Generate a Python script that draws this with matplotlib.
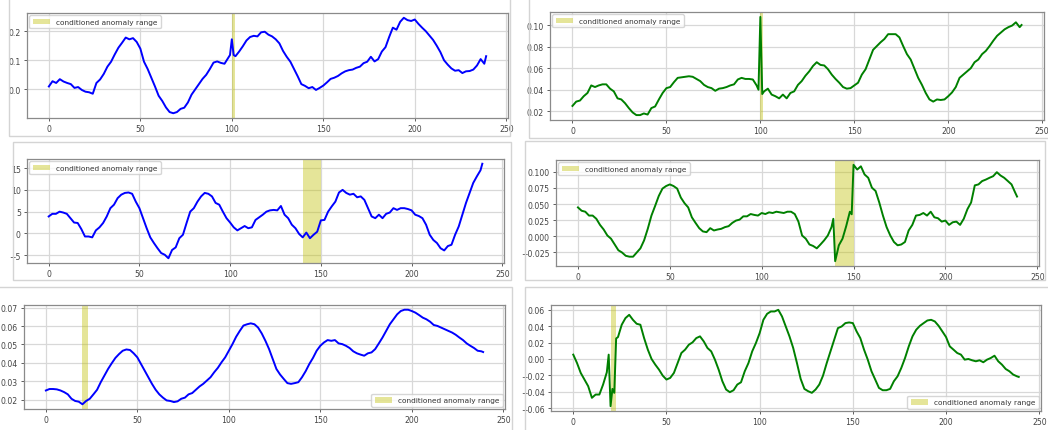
import numpy as np
import matplotlib
matplotlib.use("Agg")
import matplotlib.pyplot as plt
from matplotlib.patches import Rectangle

W, H = 1048, 431

# common x grid (every 2nd step + last index), extra points add sharp features
x_grid = list(range(0, 240, 2)) + [239]

# panel 1 (top left)
y1 = [0.010, 0.028, 0.022, 0.035, 0.027, 0.022, 0.018, 0.005, 0.008, -0.002,
      -0.008, -0.010, -0.015, 0.022, 0.034, 0.053, 0.078, 0.095, 0.120, 0.143,
      0.160, 0.178, 0.172, 0.176, 0.163, 0.140, 0.095, 0.070, 0.040, 0.010,
      -0.022, -0.040, -0.062, -0.078, -0.082, -0.078, -0.067, -0.063, -0.045, -0.018,
      0.000, 0.018, 0.036, 0.050, 0.070, 0.092, 0.096, 0.091, 0.088, 0.108,
      0.172, 0.114, 0.130, 0.148, 0.168, 0.180, 0.184, 0.182, 0.196, 0.198,
      0.188, 0.182, 0.172, 0.158, 0.132, 0.112, 0.095, 0.070, 0.045, 0.018,
      0.012, 0.004, 0.008, -0.002, 0.005, 0.013, 0.024, 0.036, 0.040, 0.046,
      0.055, 0.062, 0.066, 0.068, 0.074, 0.078, 0.090, 0.095, 0.112, 0.096,
      0.104, 0.130, 0.145, 0.180, 0.212, 0.205, 0.232, 0.246, 0.238, 0.235,
      0.240, 0.225, 0.212, 0.200, 0.185, 0.170, 0.150, 0.128, 0.100, 0.085,
      0.072, 0.064, 0.066, 0.056, 0.062, 0.063, 0.068, 0.082, 0.104, 0.088,
      0.114]
x1_extra = [99, 101]
y1_extra = [0.118, 0.118]
span1 = (100, 101.5)

# panel 2 (top right)
y2 = [0.025, 0.029, 0.030, 0.034, 0.037, 0.044, 0.0425, 0.044, 0.045, 0.045,
      0.041, 0.0385, 0.032, 0.031, 0.0275, 0.023, 0.019, 0.0165, 0.0165, 0.018,
      0.017, 0.023, 0.0245, 0.031, 0.037, 0.0415, 0.0425, 0.047, 0.051, 0.0515,
      0.052, 0.0525, 0.052, 0.050, 0.048, 0.0445, 0.0425, 0.0415, 0.039, 0.041,
      0.0415, 0.0425, 0.044, 0.045, 0.0495, 0.051, 0.050, 0.050, 0.0495, 0.044,
      0.1075, 0.0385, 0.041, 0.0355, 0.034, 0.032, 0.0355, 0.032, 0.037, 0.0385,
      0.0445, 0.048, 0.053, 0.057, 0.062, 0.0655, 0.063, 0.0625, 0.059, 0.054,
      0.050, 0.0465, 0.0425, 0.041, 0.0415, 0.044, 0.0465, 0.054, 0.059, 0.068,
      0.077, 0.0805, 0.084, 0.087, 0.0915, 0.0915, 0.0915, 0.0885, 0.0805, 0.073,
      0.068, 0.0595, 0.051, 0.0445, 0.037, 0.031, 0.029, 0.031, 0.0305, 0.031,
      0.034, 0.0375, 0.0425, 0.051, 0.054, 0.057, 0.060, 0.0655, 0.068, 0.073,
      0.076, 0.0805, 0.0855, 0.090, 0.093, 0.096, 0.098, 0.0995, 0.1025, 0.098,
      0.100]
x2_extra = [99, 101]
y2_extra = [0.040, 0.036]
span2 = (100, 101.5)

# panel 3 (middle left)
y3 = [3.9, 4.5, 4.5, 5.0, 4.8, 4.5, 3.5, 2.5, 2.4, 1.0,
      -0.7, -0.7, -0.9, 0.7, 1.4, 2.4, 3.9, 5.8, 6.6, 8.1,
      8.9, 9.3, 9.4, 9.1, 7.3, 5.8, 3.5, 1.2, -0.9, -2.2,
      -3.4, -4.5, -4.9, -5.7, -3.8, -3.2, -1.1, -0.3, 2.4, 5.0,
      5.8, 7.3, 8.5, 9.3, 9.1, 8.5, 7.0, 6.6, 5.0, 3.5,
      2.5, 1.4, 0.7, 1.2, 1.7, 1.2, 1.4, 3.1, 3.7, 4.3,
      5.0, 5.3, 5.4, 5.3, 6.3, 4.3, 3.5, 2.0, 1.2, -0.1,
      -0.9, 0.2, -1.1, -0.3, 0.4, 3.0, 3.1, 5.0, 6.2, 7.3,
      9.4, 10.0, 9.3, 8.9, 9.1, 8.3, 8.5, 7.7, 5.8, 3.9,
      3.5, 4.3, 3.5, 4.5, 4.8, 5.8, 5.4, 5.8, 5.8, 5.6,
      5.3, 4.3, 4.0, 3.5, 2.0, -0.3, -1.5, -2.2, -3.4, -3.9,
      -2.9, -2.6, -0.3, 1.6, 4.3, 7.0, 9.3, 11.6, 13.1, 14.5,
      16.0]
x3_extra = []
y3_extra = []
span3 = (140, 150)

# panel 4 (middle right)
y4 = [0.0447, 0.0395, 0.038, 0.032, 0.032, 0.027, 0.0175, 0.0103, 0.001, -0.004,
      -0.013, -0.022, -0.0255, -0.0306, -0.032, -0.032, -0.0255, -0.019, -0.0066, 0.0114,
      0.032, 0.047, 0.0626, 0.074, 0.078, 0.0805, 0.078, 0.074, 0.060, 0.0513,
      0.0447, 0.0293, 0.0206, 0.0124, 0.0073, 0.0062, 0.0124, 0.0088, 0.0103, 0.0114,
      0.014, 0.0155, 0.0206, 0.0242, 0.0257, 0.0308, 0.0308, 0.0344, 0.033, 0.032,
      0.036, 0.0344, 0.037, 0.036, 0.038, 0.037, 0.036, 0.038, 0.038, 0.0344,
      0.0226, 0.001, -0.004, -0.013, -0.0153, -0.019, -0.013, -0.0066, 0.001, 0.014,
      -0.039, -0.0143, -0.004, 0.0155, 0.038, 0.111, 0.1036, 0.1087, 0.096, 0.0908,
      0.0754, 0.0703, 0.0524, 0.032, 0.014, 0.001, -0.0091, -0.0143, -0.013, -0.0091,
      0.0088, 0.0175, 0.032, 0.033, 0.036, 0.032, 0.038, 0.0293, 0.0278, 0.0226,
      0.0242, 0.0175, 0.0216, 0.0226, 0.0175, 0.027, 0.042, 0.0524, 0.079, 0.0805,
      0.0857, 0.088, 0.0908, 0.0933, 0.0995, 0.0944, 0.0908, 0.0857, 0.0805, 0.0677,
      0.0616]
x4_extra = [139, 149]
y4_extra = [0.027, 0.034]
span4 = (140, 150)

# panel 5 (bottom left)
y5 = [0.0250, 0.0258, 0.0258, 0.0256, 0.0250, 0.0241, 0.0229, 0.0205, 0.0193, 0.0189,
      0.0175, 0.0193, 0.0205, 0.0229, 0.0254, 0.0295, 0.0331, 0.0367, 0.0398, 0.0427,
      0.0448, 0.0466, 0.0473, 0.0470, 0.0452, 0.0430, 0.0394, 0.0358, 0.0322, 0.0286,
      0.0254, 0.0229, 0.0211, 0.0196, 0.0193, 0.0187, 0.0191, 0.0205, 0.0211, 0.0229,
      0.0236, 0.0254, 0.0272, 0.0286, 0.0304, 0.0322, 0.0349, 0.0373, 0.0403, 0.0430,
      0.0466, 0.0502, 0.0542, 0.0574, 0.0603, 0.0610, 0.0615, 0.0610, 0.0592, 0.0560,
      0.0520, 0.0475, 0.0421, 0.0367, 0.0337, 0.0313, 0.0290, 0.0286, 0.0290, 0.0295,
      0.0322, 0.0355, 0.0394, 0.0427, 0.0466, 0.0493, 0.0511, 0.0524, 0.0520, 0.0524,
      0.0506, 0.0502, 0.0493, 0.0481, 0.0463, 0.0452, 0.0445, 0.0439, 0.0452, 0.0457,
      0.0475, 0.0506, 0.0538, 0.0574, 0.0610, 0.0637, 0.0664, 0.0682, 0.0689, 0.0689,
      0.0682, 0.0673, 0.0660, 0.0646, 0.0637, 0.0624, 0.0606, 0.0601, 0.0592, 0.0583,
      0.0574, 0.0565, 0.0553, 0.0538, 0.0524, 0.0506, 0.0493, 0.0481, 0.0466, 0.0463,
      0.0459]
x5_extra = []
y5_extra = []
span5 = (20, 23)

# panel 6 (bottom right)
y6 = [0.0053, -0.0049, -0.017, -0.0251, -0.0332, -0.0474, -0.0434, -0.0434, -0.0312, -0.0162,
      -0.0576, -0.0413, 0.0268, 0.0418, 0.0499, 0.0539, 0.0478, 0.043, 0.0418, 0.0255,
      0.0114, 0.000, -0.0069, -0.013, -0.0203, -0.0251, -0.0231, -0.017, -0.0049, 0.0073,
      0.0114, 0.0174, 0.0203, 0.0255, 0.0276, 0.0215, 0.0134, 0.0093, -0.0008, -0.013,
      -0.0272, -0.0373, -0.0405, -0.0381, -0.0312, -0.0284, -0.015, -0.0049, 0.0093, 0.0195,
      0.0316, 0.0478, 0.0551, 0.058, 0.058, 0.060, 0.0519, 0.0397, 0.0276, 0.0134,
      -0.0049, -0.0243, -0.0365, -0.0393, -0.0413, -0.0373, -0.0312, -0.0203, -0.0049, 0.0093,
      0.0235, 0.0377, 0.0397, 0.0438, 0.0446, 0.0438, 0.0337, 0.0255, 0.0114, -0.0008,
      -0.015, -0.0251, -0.0353, -0.0381, -0.0381, -0.0365, -0.0272, -0.0211, -0.0109, 0.0012,
      0.0154, 0.0276, 0.0357, 0.0405, 0.0438, 0.047, 0.0478, 0.0458, 0.0405, 0.0337,
      0.0268, 0.0154, 0.0114, 0.0073, 0.0053, -0.0008, 0.000, -0.0016, -0.0028, -0.0016,
      -0.004, -0.0008, 0.0012, 0.004, -0.0028, -0.0069, -0.0122, -0.015, -0.019, -0.0211,
      -0.0219]
x6_extra = [19, 21, 23]
y6_extra = [0.0053, -0.0365, 0.025]
span6 = (20, 23)

y_ticks = [
    [0.0, 0.1, 0.2],
    [0.02, 0.04, 0.06, 0.08, 0.10],
    [-5, 0, 5, 10, 15],
    [-0.025, 0.0, 0.025, 0.05, 0.075, 0.1],
    [0.02, 0.03, 0.04, 0.05, 0.06, 0.07],
    [-0.06, -0.04, -0.02, 0.0, 0.02, 0.04, 0.06],
]
x_ticks = [0, 50, 100, 150, 200, 250]
legend_label = "conditioned anomaly range"

# pixel boxes (left, top, right, bottom) of each plot area
boxes = [(27, 14, 508, 119), (550, 13, 1044, 121),
         (27, 160, 504, 264), (556, 161, 1039, 267),
         (24, 306, 505, 410), (551, 306, 1041, 412)]
# screenshot frames (left, top, right, bottom)
frames = [(9, -5, 510, 137), (529, -5, 1060, 139),
          (13, 143, 511, 281), (525, 142, 1045, 281),
          (-5, 288, 512, 440), (525, 288, 1060, 440)]

panels = [
    (y1, x1_extra, y1_extra, span1, "blue", "upper left"),
    (y2, x2_extra, y2_extra, span2, "green", "upper left"),
    (y3, x3_extra, y3_extra, span3, "blue", "upper left"),
    (y4, x4_extra, y4_extra, span4, "green", "upper left"),
    (y5, x5_extra, y5_extra, span5, "blue", "lower right"),
    (y6, x6_extra, y6_extra, span6, "green", "lower right"),
]

fig = plt.figure(figsize=(W / 100, H / 100), dpi=100)

for (l, t, r, b) in frames:
    fig.patches.append(Rectangle((l / W, 1 - b / H), (r - l) / W, (b - t) / H,
                                 transform=fig.transFigure, fill=False,
                                 edgecolor="#d4d4d4", lw=1.0, zorder=0))

for i, (ys, xe, ye, span, color, loc) in enumerate(panels):
    l, t, r, b = boxes[i]
    ax = fig.add_axes([l / W, 1 - b / H, (r - l) / W, (b - t) / H])
    xs = np.array(x_grid + xe)
    vals = np.array(ys + ye)
    order = np.argsort(xs)
    ax.plot(xs[order], vals[order], color=color, lw=1.4, zorder=3)
    ax.axvspan(span[0], span[1], color="y", alpha=0.4, lw=0,
               label=legend_label, zorder=2)
    ax.set_xlim(-11.95, 250.95)
    ax.set_xticks(x_ticks)
    ax.set_yticks(y_ticks[i])
    ax.grid(True, color="#d8d8d8", lw=0.9)
    ax.set_axisbelow(True)
    for s in ax.spines.values():
        s.set_color("#8a8a8a")
        s.set_linewidth(0.9)
    ax.tick_params(labelsize=5.6, colors="#444444", length=2.5, width=0.6,
                   pad=2)
    leg = ax.legend(loc=loc, fontsize=5.3, frameon=True, borderpad=0.45,
                    handlelength=2.4, handleheight=0.8, borderaxespad=0.3)
    leg.get_frame().set_edgecolor("#cccccc")
    for txt in leg.get_texts():
        txt.set_color("#333333")

fig.savefig("out.png", dpi=100)
